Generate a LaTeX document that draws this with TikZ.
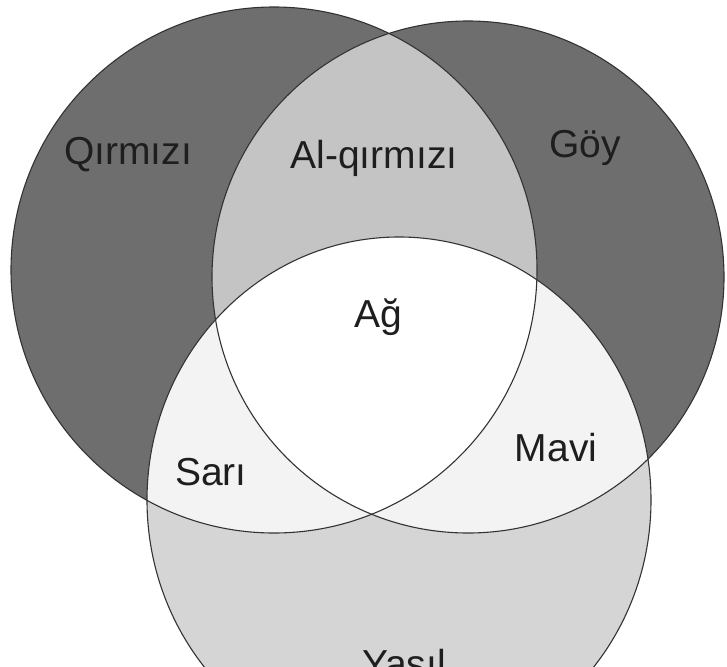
\documentclass[tikz,border=0pt]{standalone}
\usepackage{fontspec}
\setmainfont{Liberation Sans}
\usepackage{tikz}
\definecolor{darkRing}{HTML}{6E6E6E}
\definecolor{lensGray}{HTML}{C4C4C4}
\definecolor{lowGray}{HTML}{D5D5D5}
\definecolor{paleGray}{HTML}{F3F3F3}
\definecolor{labelInk}{HTML}{1E1E1E}

\begin{document}
\begin{tikzpicture}[x=1pt, y=-1pt,
    lbl/.style={text=labelInk, font=\fontsize{39}{46}\selectfont, inner sep=0pt, anchor=base},
    rim/.style={draw=black!80, line width=1.1pt}]
    \useasboundingbox (0,0) rectangle (727,666);
    \clip (0,0) rectangle (727,666);
    \def\circL{(274,270) circle (263pt)}
    \def\circR{(468,277) circle (256pt)}
    \def\ovalB{(399,500) ellipse [x radius=252pt, y radius=263pt]}
    % outer rings
    \fill[darkRing] \circL;
    \fill[darkRing] \circR;
    \begin{scope}
        \clip \circL;
        \fill[lensGray] \circR;
    \end{scope}
    % lower oval
    \fill[lowGray] \ovalB;
    \begin{scope}
        \clip \ovalB;
        \fill[paleGray] \circL;
        \fill[paleGray] \circR;
        \clip \circL;
        \fill[white] \circR;
    \end{scope}
    \draw[rim] \circL;
    \draw[rim] \circR;
    \draw[rim] \ovalB;
    % labels
    \node[lbl] (qirmizi) at (128,164) {Qırmızı};
    \node[lbl] (alqirmizi) at (374,168) {Al-qırmızı};
    \node[lbl] (goy) at (585,157) {Göy};
    \node[lbl] (ag) at (378,327) {Ağ};
    \node[lbl] (sari) at (211,485) {Sarı};
    \node[lbl] (mavi) at (556,461) {Mavi};
    \node[lbl] (yasil) at (404,677) {Yaşıl};
\end{tikzpicture}
\end{document}
